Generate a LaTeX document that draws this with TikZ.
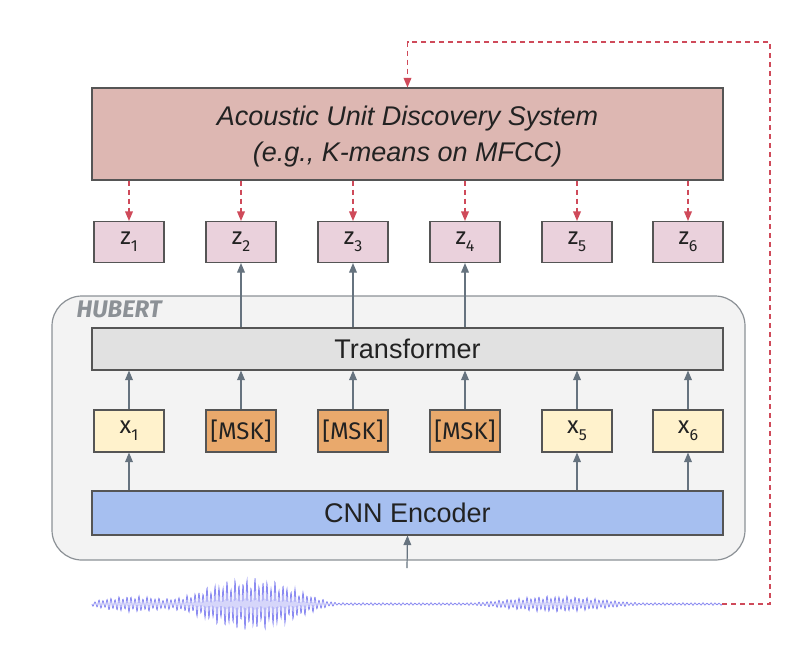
\documentclass[tikz,border=0pt]{standalone}
\usepackage{fontspec}
\setmainfont{Liberation Sans}
\newfontfamily\lblfont{Fira Sans}
\usetikzlibrary{arrows}
\definecolor{discfill}{HTML}{DDB7B2}
\definecolor{zfill}{HTML}{EAD1DC}
\definecolor{hubfill}{HTML}{F3F3F3}
\definecolor{hubline}{HTML}{8C9196}
\definecolor{transfill}{HTML}{E1E1E1}
\definecolor{xfill}{HTML}{FFF2CC}
\definecolor{mskfill}{HTML}{E9A96C}
\definecolor{cnnfill}{HTML}{A6BFF0}
\definecolor{boxline}{HTML}{555555}
\definecolor{arr}{HTML}{66737F}
\definecolor{backred}{HTML}{CF4A5A}
\definecolor{wave}{HTML}{6464EC}
\definecolor{txt}{HTML}{222222}
\newcommand\sublbl[2]{#1\raisebox{-0.55ex}{\fontsize{16}{16}\selectfont #2}}
\tikzset{box/.style={draw=boxline, line width=1.2pt, inner sep=0pt, text=txt}}
\tikzset{wide/.style={box, minimum width=631pt, font=\fontsize{27}{36}\selectfont}}
\tikzset{small/.style={box, minimum width=70pt, minimum height=41pt, font=\lblfont\fontsize{24}{26}\selectfont}}

\begin{document}
\begin{tikzpicture}[x=1pt, y=-1pt,
  zbox/.style={small, fill=zfill},
  xbox/.style={small, fill=xfill},
  mbox/.style={small, fill=mskfill},
  up/.style={->, >=triangle 45, draw=arr, line width=1.2pt},
  back/.style={->, >=triangle 45, draw=backred, line width=1.2pt, dash pattern=on 5pt off 4pt}]
  \useasboundingbox (0,0) rectangle (800,649);
  % top: unit discovery
  \node[wide, fill=discfill, minimum height=92pt] (disc) at (407.5,134) {};
  \node[align=center, text=txt, font=\itshape\fontsize{27}{36}\selectfont]
    (disctext) at ([yshift=-3pt]disc.center) {Acoustic Unit Discovery System\\(e.g., K-means on MFCC)};
  \foreach \i/\cx in {1/129,2/241,3/353,4/465,5/577,6/688}
    \node[zbox] (z\i) at (\cx,242) {\sublbl{z}{\i}};
  % hubert model
  \node[draw=hubline, fill=hubfill, line width=1.2pt, rounded corners=30pt,
    minimum width=693pt, minimum height=264pt] (hubert) at (398.5,428) {};
  \node[anchor=north west, text=hubline, font=\lblfont\bfseries\itshape\fontsize{24}{26}\selectfont,
    inner sep=0pt] (hublab) at ([shift={(25pt,-5pt)}]hubert.north west) {HUBERT};
  \node[wide, fill=transfill, minimum height=42pt] (trans) at (407.5,349) {Transformer};
  \foreach \i/\cx/\lab/\sty in {1/129/{\sublbl{x}{1}}/xbox, 2/241/{[MSK]}/mbox, 3/353/{[MSK]}/mbox,
      4/465/{[MSK]}/mbox, 5/577/{\sublbl{x}{5}}/xbox, 6/688/{\sublbl{x}{6}}/xbox}
    \node[\sty, minimum height=42pt] (x\i) at (\cx,431) {\lab};
  \node[wide, fill=cnnfill, minimum height=44pt] (cnn) at (407.5,513) {CNN Encoder};
  % waveform
  \draw[wave, line width=0.8pt, opacity=0.75] plot[samples=1500, domain=92:722]
    (\x, {604 + (1.2 + 25*max(0,1-((\x-250)/92)^2)^2 + 7*max(0,1-((\x-135)/60)^2)^2
      + 7*max(0,1-((\x-555)/90)^2)^2)*(0.8+0.2*sin(37*mod(\x,9.73)))*sin(90*mod(\x,4))});
  \coordinate (win) at (407,568);
  \coordinate (wend) at (722,604);
  % connectors
  \foreach \i in {1,...,6}
    \draw[back] (disc.south -| z\i) -- (z\i.north);
  \foreach \i in {2,3,4}
    \draw[up] (trans.north -| z\i) -- (z\i.south);
  \foreach \i in {1,...,6}
    \draw[up] (x\i.north) -- (x\i.north |- trans.south);
  \foreach \i in {1,5,6}
    \draw[up] (cnn.north -| x\i) -- (x\i.south);
  \draw[up] (win) -- (cnn.south);
  \draw[back] (wend) -| (770,42) -| (disc.north);
\end{tikzpicture}
\end{document}
